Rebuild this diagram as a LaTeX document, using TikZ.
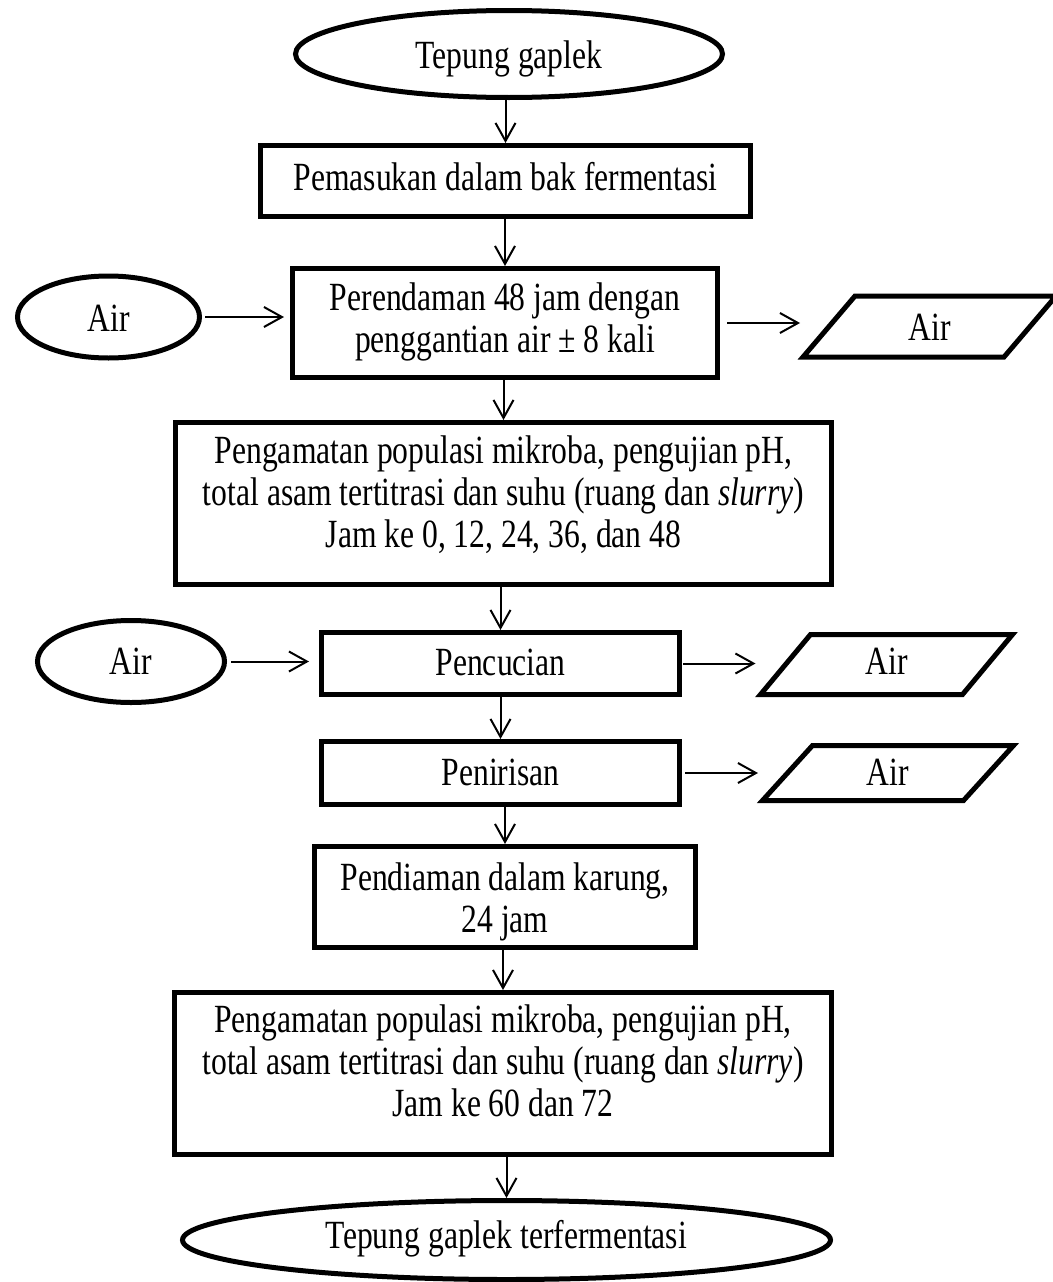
\documentclass[tikz,border=0pt]{standalone}
\usepackage{fontspec}
\setmainfont{Liberation Serif}[FakeStretch=0.79]
\usetikzlibrary{arrows.meta,shapes.geometric}
\begin{document}
\begin{tikzpicture}[x=1pt,y=-1pt,
  txt/.style={font=\fontsize{40}{42}\selectfont, align=center, inner sep=0pt, text=black},
  box/.style={draw, rectangle, line width=5pt, inner sep=0pt},
  term/.style={draw, ellipse, line width=5pt, inner sep=0pt},
  iobox/.style={rectangle, inner sep=0pt, outer sep=0pt},
  iolines/.style={line width=5pt, line join=miter},
  arr/.style={line width=2pt, -{Straight Barb[length=18pt,width=20pt]}}]
\useasboundingbox (0,0) rectangle (1052,1282);
\fill[white] (0,0) rectangle (1052,1282);

% main column
\node[term, minimum width=427pt, minimum height=87pt,
  label={[txt,yshift=-5pt]center:Tepung gaplek}] (e1) at (509,54) {};
\node[box, minimum width=490pt, minimum height=71pt,
  label={[txt,yshift=4pt]center:Pemasukan dalam bak fermentasi}] (b2) at (505.5,181) {};
\node[box, minimum width=425pt, minimum height=109pt,
  label={[txt,yshift=1pt]center:{Perendaman 48 jam dengan\\penggantian air ± 8 kali}}] (b3) at (505,323) {};
\node[box, minimum width=656pt, minimum height=162pt,
  label={[txt,yshift=9pt]center:{Pengamatan populasi mikroba, pengujian pH,\\total asam tertitrasi dan suhu (ruang dan \textit{slurry})\\Jam ke 0, 12, 24, 36, dan 48}}] (b4) at (503.5,503.5) {};
\node[box, minimum width=358pt, minimum height=62pt,
  label={[txt,yshift=1pt]center:Pencucian}] (b5) at (500.5,663.5) {};
\node[box, minimum width=358pt, minimum height=63pt,
  label={[txt,yshift=0.5pt]center:Penirisan}] (b6) at (500.5,773) {};
\node[box, minimum width=381pt, minimum height=101pt,
  label={[txt,yshift=-4.5pt]center:{Pendiaman dalam karung,\\24 jam}}] (b7) at (505,897) {};
\node[box, minimum width=657pt, minimum height=162pt,
  label={[txt,yshift=13pt]center:{Pengamatan populasi mikroba, pengujian pH,\\total asam tertitrasi dan suhu (ruang dan \textit{slurry})\\Jam ke 60 dan 72}}] (b8) at (503,1073.5) {};
\node[term, minimum width=648pt, minimum height=79pt,
  label={[txt,yshift=1pt]center:Tepung gaplek terfermentasi}] (e2) at (506.5,1240) {};

% inputs (water)
\node[term, minimum width=182pt, minimum height=82pt,
  label={[txt,yshift=-1.5pt]center:Air}] (a1) at (108.5,317) {};
\node[term, minimum width=187pt, minimum height=82pt,
  label={[txt,yshift=0pt]center:Air}] (a2) at (131,661.5) {};

% outputs (water) - parallelograms
\node[iobox, minimum width=201pt, minimum height=61pt,
  label={[txt,yshift=-1pt]center:Air}] (p1) at (929.5,326.5) {};
\draw[iolines] ([xshift=-26pt]p1.south west) -- ([xshift=-26pt]p1.south east)
  -- ([xshift=26pt]p1.north east) -- ([xshift=26pt]p1.north west) -- cycle;
\node[iobox, minimum width=202pt, minimum height=60pt,
  label={[txt,yshift=3pt]center:Air}] (p2) at (886.5,664.5) {};
\draw[iolines] ([xshift=-25pt]p2.south west) -- ([xshift=-25pt]p2.south east)
  -- ([xshift=25pt]p2.north east) -- ([xshift=25pt]p2.north west) -- cycle;
\node[iobox, minimum width=201pt, minimum height=55pt,
  label={[txt,yshift=0.5pt]center:Air}] (p3) at (888,773) {};
\draw[iolines] ([xshift=-25pt]p3.south west) -- ([xshift=-25pt]p3.south east)
  -- ([xshift=25pt]p3.north east) -- ([xshift=25pt]p3.north west) -- cycle;

% vertical flow
\draw[arr] (b2.north |- e1.south) -- (b2.north);
\draw[arr] (b3.north |- b2.south) -- (b3.north);
\draw[arr] (b4.north |- b3.south) -- (b4.north);
\draw[arr] (b5.north |- b4.south) -- (b5.north);
\draw[arr] (b6.north |- b5.south) -- (b6.north);
\draw[arr] (b7.north |- b6.south) -- (b7.north);
\draw[arr] (b8.north |- b7.south) -- (b8.north);
\draw[arr] (e2.north |- b8.south) -- (e2.north);

% horizontal flows
\draw[arr, shorten <=3pt, shorten >=6pt] (a1.east) -- (a1.east -| b3.west);
\draw[arr, shorten <=7pt, shorten >=29pt] (b3.east) -- (b3.east -| p1.west);
\draw[arr, shorten <=4pt, shorten >=10pt] (a2.east) -- (a2.east -| b5.west);
\draw[arr, shorten <=1pt, shorten >=30pt] (b5.east) -- (b5.east -| p2.west);
\draw[arr, shorten <=3pt, shorten >=29.5pt] (b6.east) -- (b6.east -| p3.west);
\end{tikzpicture}
\end{document}
